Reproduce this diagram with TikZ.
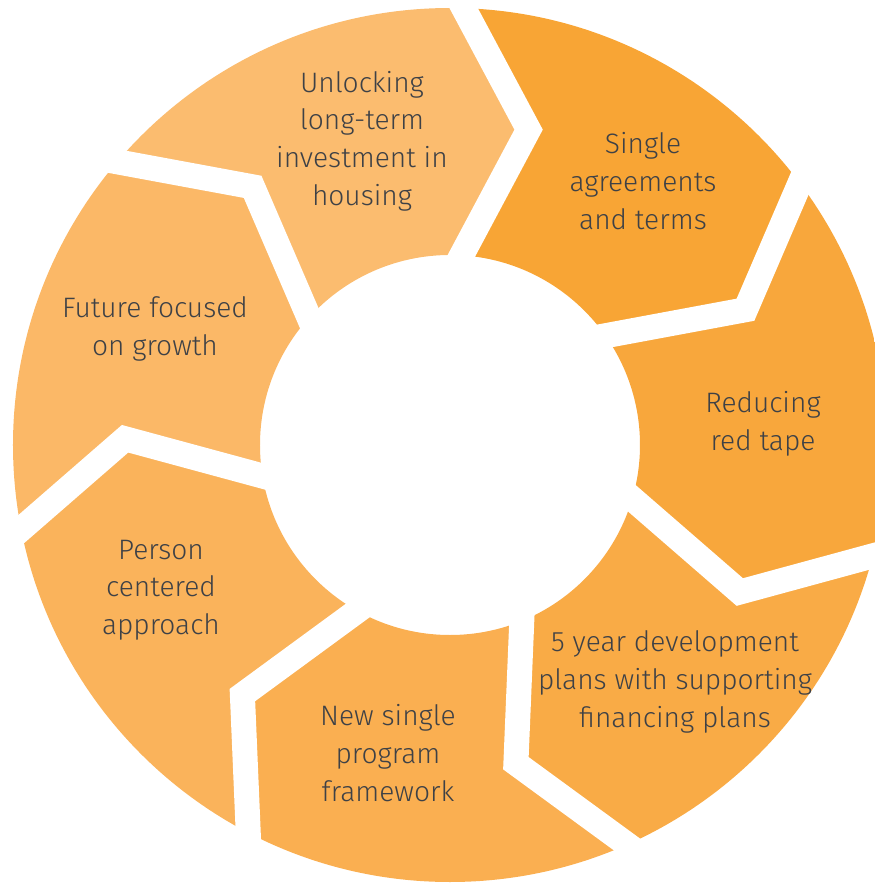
\documentclass[tikz,border=0pt]{standalone}
\usepackage{fontspec}
\setmainfont{Fira Sans Light}
\usetikzlibrary{calc}
\definecolor{unlockfill}{HTML}{FBBC6F}
\definecolor{singlefill}{HTML}{F8A535}
\definecolor{tapefill}{HTML}{F8A73C}
\definecolor{planfill}{HTML}{F9AB46}
\definecolor{progfill}{HTML}{FAAF51}
\definecolor{personfill}{HTML}{FAB35B}
\definecolor{futurefill}{HTML}{FBB867}
\definecolor{textgray}{HTML}{3E4146}
\begin{document}
\begin{tikzpicture}[x=0.02cm,y=0.02cm,
  txt/.style={align=center,text=textgray,font=\fontsize{16}{21.4}\selectfont},
  gap/.style={draw=white,line width=0.5cm}]
\useasboundingbox (-450,-438) rectangle (425,445);
\begin{scope}[even odd rule]
\clip (0,0) circle (437) (0,0) circle (190);
% segments, clockwise from the top
\fill[unlockfill] (0,0) -- (137.9:190) -- (127.4:325) -- (139.6:437) -- (139.6:600) -- (88.2:600) -- (88.2:437) -- (76:325) -- (86.5:190) -- cycle;
\fill[singlefill] (0,0) -- (86.5:190) -- (76:325) -- (88.2:437) -- (88.2:600) -- (36.8:600) -- (36.8:437) -- (24.6:325) -- (35.1:190) -- cycle;
\fill[tapefill] (0,0) -- (35.1:190) -- (24.6:325) -- (36.8:437) -- (36.8:600) -- (-14.7:600) -- (-14.7:437) -- (-26.9:325) -- (-16.4:190) -- cycle;
\fill[planfill] (0,0) -- (-16.4:190) -- (-26.9:325) -- (-14.7:437) -- (-14.7:600) -- (-66.1:600) -- (-66.1:437) -- (-78.3:325) -- (-67.8:190) -- cycle;
\fill[progfill] (0,0) -- (-67.8:190) -- (-78.3:325) -- (-66.1:437) -- (-66.1:600) -- (-117.5:600) -- (-117.5:437) -- (-129.7:325) -- (-119.2:190) -- cycle;
\fill[personfill] (0,0) -- (-119.2:190) -- (-129.7:325) -- (-117.5:437) -- (-117.5:600) -- (-168.9:600) -- (-168.9:437) -- (-181.1:325) -- (-170.6:190) -- cycle;
\fill[futurefill] (0,0) -- (-170.6:190) -- (-181.1:325) -- (-168.9:437) -- (-168.9:600) -- (139.6:600) -- (139.6:437) -- (127.4:325) -- (137.9:190) -- cycle;
\end{scope}
% white gaps
\draw[gap] ($(76:325)!1.5!(86.5:190)$) -- (76:325) -- ($(76:325)!1.5!(88.2:437)$);
\draw[gap] ($(24.6:325)!1.5!(35.1:190)$) -- (24.6:325) -- ($(24.6:325)!1.5!(36.8:437)$);
\draw[gap] ($(-26.9:325)!1.5!(-16.4:190)$) -- (-26.9:325) -- ($(-26.9:325)!1.5!(-14.7:437)$);
\draw[gap] ($(-78.3:325)!1.5!(-67.8:190)$) -- (-78.3:325) -- ($(-78.3:325)!1.5!(-66.1:437)$);
\draw[gap] ($(-129.7:325)!1.5!(-119.2:190)$) -- (-129.7:325) -- ($(-129.7:325)!1.5!(-117.5:437)$);
\draw[gap] ($(-181.1:325)!1.5!(-170.6:190)$) -- (-181.1:325) -- ($(-181.1:325)!1.5!(-168.9:437)$);
\draw[gap] ($(127.4:325)!1.5!(137.9:190)$) -- (127.4:325) -- ($(127.4:325)!1.5!(139.6:437)$);
% labels
\node[txt] (unlock) at (-88,304) {Unlocking\\long-term\\investment in\\housing};
\node[txt] (single) at (193,264) {Single\\agreements\\and terms};
\node[txt] (redtape) at (313,21) {Reducing\\red tape};
\node[txt] (fiveyear) at (225,-237) {5 year development\\plans with supporting\\financing plans};
\node[txt] (newprog) at (-62,-308) {New single\\program\\framework};
\node[txt] (person) at (-289,-145) {Person\\centered\\approach};
\node[txt] (future) at (-295,116) {Future focused\\on growth};
\end{tikzpicture}
\end{document}
